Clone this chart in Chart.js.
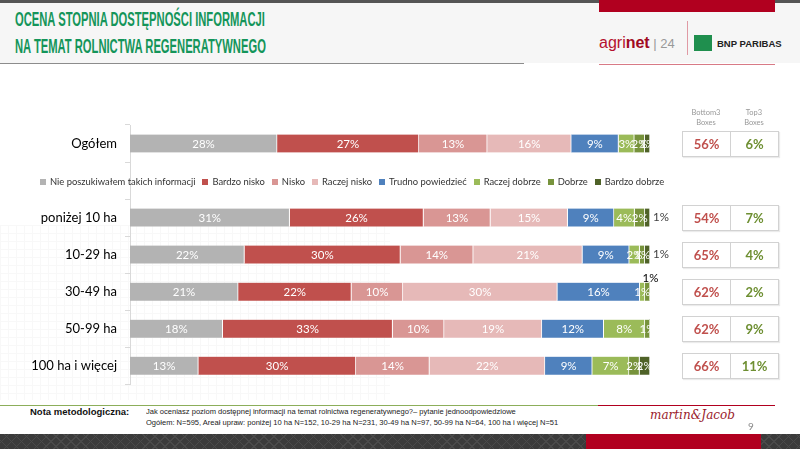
<!DOCTYPE html>
<html lang="pl">
<head>
<meta charset="utf-8">
<title>Ocena stopnia dostępności informacji</title>
<script src="https://cdn.jsdelivr.net/npm/chart.js@4.4.1/dist/chart.umd.min.js"></script>
<style>
    html, body { margin: 0; padding: 0; }
    body {
        width: 800px; height: 449px; position: relative; overflow: hidden;
        background: #fff; font-family: Lato, 'Open Sans', sans-serif;
    }
    .abs { position: absolute; }
    .fit { transform-origin: 0 0; white-space: nowrap; }
    #topBar { left: 0; top: 0; width: 800px; height: 3px; background: #555; }
    #header { left: 0; top: 3px; width: 800px; height: 60px; background: #f6f6f6; }
    #headerLine { left: 0; top: 63px; width: 524px; height: 1px; background: #8c8c8c; }
    #redTop { left: 599px; top: 0; width: 176px; height: 12px; background: #b1001f; }
    #redLine { left: 599px; top: 64px; width: 176px; height: 1px; background: #d87a86; }
    #title {
        left: 15px; top: 6px; color: #14955a; font-family: 'Liberation Sans', sans-serif;
        font-size: 20px; line-height: 27px; font-weight: bold;
    }
    #agrinet { left: 599px; top: 34px; font-family: 'Liberation Sans', sans-serif; font-size: 16px; color: #b5102e; }
    #agrinet b { color: #a00a22; }
    #agrinet span { color: #999; font-size: 13px; }
    #logoSep { left: 687px; top: 21px; width: 1px; height: 34px; background: #e09aa4; }
    #bnpBox { left: 694px; top: 35px; width: 18px; height: 16px; background: #1f8f4e; }
    #bnpText { left: 717px; top: 38px; font-family: 'Liberation Sans', sans-serif; font-weight: bold; font-size: 9.5px; color: #222; }

    #gridBg {
        left: 0; top: 225px; width: 390px; height: 175px; opacity: 0.4;
        background-image:
            linear-gradient(#f0f0f0 1px, transparent 1px),
            linear-gradient(90deg, #f0f0f0 1px, transparent 1px);
        background-size: 8px 8px;
    }
    #chartWrap { left: 0; top: 100px; width: 700px; height: 300px; }

    #legend { left: 40px; top: 176px; display: flex; gap: 7px; font-size: 9.4px; color: #333; white-space: nowrap; }
    #legend .item { display: flex; align-items: center; }
    #legend .sw { width: 6px; height: 6px; margin-right: 4px; }

    .boxHead { top: 108px; width: 48px; text-align: center; font-size: 7.5px; line-height: 10px; color: #999; }
    .boxRow { left: 682px; width: 95px; height: 24px; display: flex; border: 1px solid #d2d2d2; background: #fff; box-shadow: 1px 1px 1px rgba(0,0,0,0.08); }
    .boxRow div { width: 47px; text-align: center; line-height: 24px; font-size: 13px; font-weight: bold; }
    .boxRow div:first-child { border-right: 1px solid #d2d2d2; color: #c0504d; }
    .boxRow div:last-child { color: #6e8f32; }

    #footLineG { left: 0; top: 405px; width: 598px; height: 1px; background: #8cae5a; }
    #footLineR { left: 598px; top: 405px; width: 177px; height: 1px; background: #b1001f; }
    #nota { left: 30px; top: 406px; font-family: 'Liberation Sans', sans-serif; font-weight: bold; font-size: 9.5px; color: #111; }
    #notaText {
        left: 146px; top: 406px; font-family: 'Liberation Sans', sans-serif;
        font-size: 8px; line-height: 11px; color: #222;
    }
    #sign { left: 650px; top: 408px; font-family: 'DejaVu Serif', serif; font-style: italic; font-size: 12px; color: #9a1b2c; }
    #pageNo { left: 748px; top: 420px; font-size: 10px; color: #888; }
    #bottomBand {
        left: 0; top: 434px; width: 800px; height: 15px; background-color: #3b3b3b;
        background-image: repeating-linear-gradient(135deg, transparent 0 6px, #4a4a4a 6px 7px),
                          repeating-linear-gradient(45deg, transparent 0 6px, #4a4a4a 6px 7px);
    }
    #bottomRed { left: 586px; top: 434px; width: 175px; height: 15px; background: #b1001f; }
</style>
</head>
<body>
<div class="abs" id="header"></div>
<div class="abs" id="topBar"></div>
<div class="abs" id="redTop"></div>
<div class="abs" id="headerLine"></div>
<div class="abs" id="redLine"></div>
<div class="abs fit" id="title" data-w="251">OCENA STOPNIA DOSTĘPNOŚCI INFORMACJI<br>NA TEMAT ROLNICTWA REGENERATYWNEGO</div>
<div class="abs" id="agrinet">agri<b>net</b><span> | 24</span></div>
<div class="abs" id="logoSep"></div>
<div class="abs" id="bnpBox"></div>
<div class="abs" id="bnpText">BNP PARIBAS</div>

<div class="abs" id="gridBg"></div>
<div class="abs" id="chartWrap"><canvas id="chart" width="700" height="300"></canvas></div>
<div class="abs" id="legend"></div>

<div class="abs boxHead" style="left:682px">Bottom3<br>Boxes</div>
<div class="abs boxHead" style="left:730px">Top3<br>Boxes</div>
<div id="boxes"></div>

<div class="abs" id="footLineG"></div>
<div class="abs" id="footLineR"></div>
<div class="abs" id="nota">Nota metodologiczna:</div>
<div class="abs fit" id="notaText" data-w="412">Jak oceniasz poziom dostępnej informacji na temat rolnictwa regeneratywnego?– pytanie jednoodpowiedziowe<br>Ogółem: N=595, Areał upraw: poniżej 10 ha N=152, 10-29 ha N=231, 30-49 ha N=97, 50-99 ha N=64, 100 ha i więcej N=51</div>
<div class="abs" id="sign">martin&amp;Jacob</div>
<div class="abs" id="pageNo">9</div>
<div class="abs" id="bottomBand"></div>
<div class="abs" id="bottomRed"></div>

<script>
// ------------------------------
// Data (percent)
// empty category = gap row where the legend sits
// ------------------------------
const categories = ['Ogółem', '', 'poniżej 10 ha', '10-29 ha', '30-49 ha', '50-99 ha', '100 ha i więcej'];

const seriesNames = [
    'Nie poszukiwałem takich informacji', 'Bardzo nisko', 'Nisko', 'Raczej nisko',
    'Trudno powiedzieć', 'Raczej dobrze', 'Dobrze', 'Bardzo dobrze'
];

const nieSzukal      = [28, null, 31, 22, 21, 18, 13];
const bardzoNisko    = [27, null, 26, 30, 22, 33, 30];
const nisko          = [13, null, 13, 14, 10, 10, 14];
const raczejNisko    = [16, null, 15, 21, 30, 19, 22];
const trudno         = [9,  null, 9,  9,  16, 12, 9];
const raczejDobrze   = [3,  null, 4,  2,  1,  8,  7];
const dobrze         = [2,  null, 2,  1,  1,  1,  2];
const bardzoDobrze   = [1,  null, 1,  1,  0,  0,  2];

const bottom3 = [56, null, 54, 65, 62, 62, 66];
const top3    = [6,  null, 7,  4,  2,  9,  11];

const seriesColors = ['#b3b3b3', '#c0504d', '#d99694', '#e6b9b8', '#4f81bd', '#9bbb59', '#77933c', '#4f6228'];

const allSeries = [nieSzukal, bardzoNisko, nisko, raczejNisko, trudno, raczejDobrze, dobrze, bardzoDobrze];

// rows are drawn as 100% stacked (the printed values are rounded)
const rowTotals = categories.map((c, j) => allSeries.reduce((s, arr) => s + (arr[j] || 0), 0));

// labels that do not sit inside their segment: "series:row"
const labelPlacement = { '7:2': 'right', '7:3': 'right', '6:4': 'above' };

// squeeze the condensed-looking texts to their width on the slide
document.querySelectorAll('.fit').forEach(el => {
    el.style.transform = `scaleX(${el.dataset.w / el.scrollWidth})`;
});

// ------------------------------
// Segment labels
// ------------------------------
const barLabels = {
    id: 'barLabels',
    afterDatasetsDraw(chart) {
        const { ctx } = chart;
        ctx.save();
        ctx.font = '11.5px Lato, "Open Sans", sans-serif';
        ctx.textBaseline = 'middle';
        chart.data.datasets.forEach((ds, i) => {
            chart.getDatasetMeta(i).data.forEach((bar, j) => {
                const v = allSeries[i][j];
                if (!v) return;
                const place = labelPlacement[i + ':' + j];
                const txt = v + '%';
                if (place === 'right') {
                    ctx.fillStyle = '#404040';
                    ctx.textAlign = 'left';
                    ctx.fillText(txt, chart.chartArea.right + 3, bar.y);
                } else if (place === 'above') {
                    ctx.fillStyle = '#000';
                    ctx.textAlign = 'center';
                    ctx.fillText(txt, (bar.x + bar.base) / 2 + 3, bar.y - 13);
                } else {
                    ctx.fillStyle = '#fff';
                    ctx.textAlign = 'center';
                    ctx.fillText(txt, (bar.x + bar.base) / 2, bar.y + 0.5);
                }
            });
        });
        ctx.restore();
    }
};

// ------------------------------
// Chart
// ------------------------------
const chart = new Chart(document.getElementById('chart').getContext('2d'), {
    type: 'bar',
    data: {
        labels: categories,
        datasets: allSeries.map((arr, i) => ({
            label: seriesNames[i],
            data: arr.map((v, j) => v === null ? null : v * 100 / rowTotals[j]),
            backgroundColor: seriesColors[i],
            borderColor: '#ffffff',
            borderWidth: { top: 0, bottom: 0, left: 0, right: 1 },
            borderSkipped: false,
            barThickness: 18
        }))
    },
    options: {
        indexAxis: 'y',
        responsive: false,
        animation: false,
        layout: { padding: { left: 0, right: 50, top: 25, bottom: 11 } },
        plugins: { legend: { display: false }, tooltip: { enabled: false } },
        scales: {
            x: { stacked: true, min: 0, max: 100, display: false },
            y: {
                stacked: true,
                afterFit: (scale) => { scale.width = 130; },
                border: { display: true, color: '#d9d9d9' },
                grid: { drawOnChartArea: false, drawTicks: true, tickLength: 5, color: '#d9d9d9', offset: true },
                ticks: { color: '#000', padding: 8, font: { family: 'Lato, "Open Sans", sans-serif', size: 13 } }
            }
        }
    },
    plugins: [barLabels]
});

// ------------------------------
// Legend + Bottom3 / Top3 boxes
// ------------------------------
const legend = document.getElementById('legend');
seriesNames.forEach((name, i) => {
    const item = document.createElement('div');
    item.className = 'item';
    item.innerHTML = `<span class="sw" style="background:${seriesColors[i]}"></span>${name}`;
    legend.appendChild(item);
});

const yScale = chart.scales.y;
const boxes = document.getElementById('boxes');
categories.forEach((c, j) => {
    if (bottom3[j] === null) return;
    const row = document.createElement('div');
    row.className = 'abs boxRow';
    row.style.top = (100 + yScale.getPixelForValue(j) - 13) + 'px';
    row.innerHTML = `<div>${bottom3[j]}%</div><div>${top3[j]}%</div>`;
    boxes.appendChild(row);
});
</script>
</body>
</html>
